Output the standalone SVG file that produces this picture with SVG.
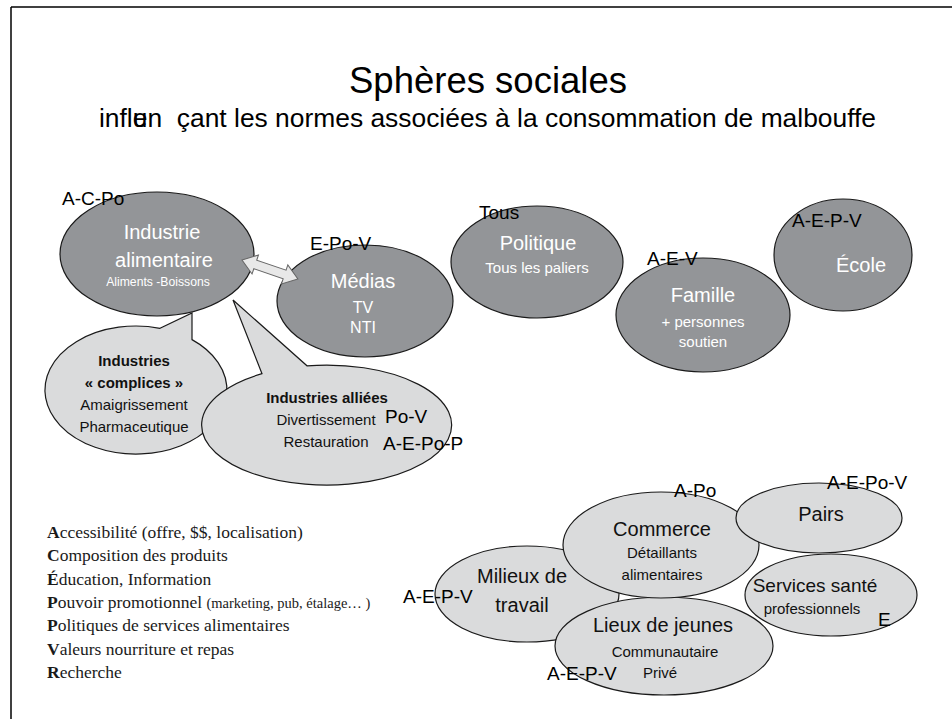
<svg xmlns="http://www.w3.org/2000/svg" width="952" height="719" viewBox="0 0 952 719">
<style>
  .dark { fill: #939598; stroke: #1a1a1a; stroke-width: 1.2; }
  .light { fill: #dadbdc; stroke: #1a1a1a; stroke-width: 1.2; }
  .sans { font-family: "Liberation Sans", Arial, sans-serif; }
  .wt { fill: #ffffff; text-anchor: middle; font-family: "Liberation Sans", Arial, sans-serif; }
  .bt { fill: #111111; text-anchor: middle; font-family: "Liberation Sans", Arial, sans-serif; }
  .lbl { fill: #000000; font-family: "Liberation Sans", Arial, sans-serif; font-size: 19px; }
  .leg { fill: #1a1a1a; font-family: "Liberation Serif", "Times New Roman", serif; font-size: 17.5px; }
  .b { font-weight: bold; }
</style>

<!-- frame -->
<g id="frame">
  <line x1="11" y1="7" x2="952" y2="7" stroke="#000" stroke-width="1.5"/>
  <line x1="11" y1="7" x2="11" y2="719" stroke="#000" stroke-width="1.5"/>
</g>

<!-- titles -->
<g id="title">
  <text x="488" y="93" class="sans" font-size="36.5" text-anchor="middle" fill="#000">Sphères sociales</text>
  <text x="99" y="127" class="sans" font-size="26.4" fill="#000">infl<tspan>u</tspan><tspan dx="-14.7">e</tspan>n<tspan dx="14.7">çant les normes associées à la consommation de malbouffe</tspan></text>
</g>

<!-- top nodes -->
<g id="industrie">
  <ellipse cx="157" cy="254" rx="97" ry="62" class="dark"/>
  <text x="162" y="239" class="wt" font-size="20">Industrie</text>
  <text x="164" y="267" class="wt" font-size="20">alimentaire</text>
  <text x="158" y="286" class="wt" font-size="12.2">Aliments -Boissons</text>
  <text x="62" y="205" class="lbl">A-C-Po</text>
</g>

<g id="medias">
  <ellipse cx="365" cy="301" rx="88" ry="56" class="dark"/>
  <text x="363" y="288" class="wt" font-size="20">Médias</text>
  <text x="363" y="313" class="wt" font-size="16">TV</text>
  <text x="363" y="333" class="wt" font-size="16">NTI</text>
  <text x="310" y="250" class="lbl">E-Po-V</text>
</g>

<g id="politique">
  <ellipse cx="537" cy="262" rx="86" ry="56" class="dark"/>
  <text x="538" y="250" class="wt" font-size="20">Politique</text>
  <text x="537" y="273" class="wt" font-size="15">Tous les paliers</text>
  <text x="479" y="219" class="lbl">Tous</text>
</g>

<g id="famille">
  <ellipse cx="703" cy="315" rx="87" ry="57" class="dark"/>
  <text x="703" y="302" class="wt" font-size="20">Famille</text>
  <text x="703" y="327" class="wt" font-size="15">+ personnes</text>
  <text x="703" y="347" class="wt" font-size="15">soutien</text>
  <text x="647" y="265" class="lbl">A-E-V</text>
</g>

<g id="ecole">
  <ellipse cx="843" cy="255" rx="69" ry="56" class="dark"/>
  <text x="861" y="272" class="wt" font-size="20">École</text>
  <text x="792" y="227" class="lbl">A-E-P-V</text>
</g>

<!-- connectors -->
<g id="connectors">
  <polygon points="0,0 14,-10 14,-4.5 45,-4.5 45,-10 59,0 45,10 45,4.5 14,4.5 14,10" transform="translate(242,260) rotate(18.7)" fill="#e8e8e8" stroke="#666" stroke-width="1"/>
</g>

<!-- callouts -->
<g id="complices">
  <path d="M160,328.3 L192,313 L192,339.6 A91,64 0 1 1 160,328.3 Z" class="light"/>
  <text x="134" y="366" class="bt b" font-size="15">Industries</text>
  <text x="134" y="388" class="bt b" font-size="15">« complices »</text>
  <text x="134" y="410" class="bt" font-size="15">Amaigrissement</text>
  <text x="134" y="432" class="bt" font-size="15">Pharmaceutique</text>
</g>

<g id="alliees">
  <path d="M262,373.7 L233,300 L307,365.8 A125,60 0 1 1 262,373.7 Z" class="light"/>
  <text x="327" y="403" class="bt b" font-size="15">Industries alliées</text>
  <text x="326" y="425" class="bt" font-size="15">Divertissement</text>
  <text x="326" y="447" class="bt" font-size="15">Restauration</text>
  <text x="385" y="423" class="lbl" font-size="20">Po-V</text>
  <text x="383" y="450" class="lbl" font-size="20">A-E-Po-P</text>
</g>

<!-- bottom cluster -->
<g id="milieux">
  <ellipse cx="527" cy="594" rx="92" ry="48" class="light"/>
  <text x="522" y="583" class="bt" font-size="20">Milieux de</text>
  <text x="522" y="612" class="bt" font-size="20">travail</text>
  <text x="403" y="603" class="lbl">A-E-P-V</text>
</g>

<g id="services">
  <ellipse cx="831" cy="595" rx="86" ry="41" class="light"/>
  <text x="815" y="592" class="bt" font-size="19">Services santé</text>
  <text x="812" y="614" class="bt" font-size="15">professionnels</text>
  <text x="878" y="626" class="lbl">E</text>
</g>

<g id="lieux">
  <ellipse cx="664" cy="646" rx="109" ry="49" class="light"/>
  <text x="663" y="632" class="bt" font-size="20">Lieux de jeunes</text>
  <text x="665" y="657" class="bt" font-size="15">Communautaire</text>
  <text x="660" y="678" class="bt" font-size="15">Privé</text>
  <text x="547" y="680" class="lbl">A-E-P-V</text>
</g>

<g id="commerce">
  <ellipse cx="661" cy="545" rx="98" ry="53" class="light"/>
  <text x="662" y="536" class="bt" font-size="20">Commerce</text>
  <text x="662" y="558" class="bt" font-size="15">Détaillants</text>
  <text x="662" y="580" class="bt" font-size="15">alimentaires</text>
  <text x="674" y="497" class="lbl">A-Po</text>
</g>

<g id="pairs">
  <ellipse cx="819" cy="518" rx="83" ry="35" class="light"/>
  <text x="821" y="521" class="bt" font-size="20">Pairs</text>
  <text x="827" y="489" class="lbl">A-E-Po-V</text>
</g>

<!-- legend -->
<g id="legend" class="leg">
  <text x="47" y="538"><tspan class="b">A</tspan>ccessibilité (offre, $$, localisation)</text>
  <text x="47" y="561"><tspan class="b">C</tspan>omposition des produits</text>
  <text x="47" y="585"><tspan class="b">É</tspan>ducation, Information</text>
  <text x="47" y="608"><tspan class="b">P</tspan>ouvoir promotionnel <tspan font-size="14.5">(marketing, pub, étalage… )</tspan></text>
  <text x="47" y="631"><tspan class="b">P</tspan>olitiques de services alimentaires</text>
  <text x="47" y="655"><tspan class="b">V</tspan>aleurs nourriture et repas</text>
  <text x="47" y="678"><tspan class="b">R</tspan>echerche</text>
</g>
</svg>
